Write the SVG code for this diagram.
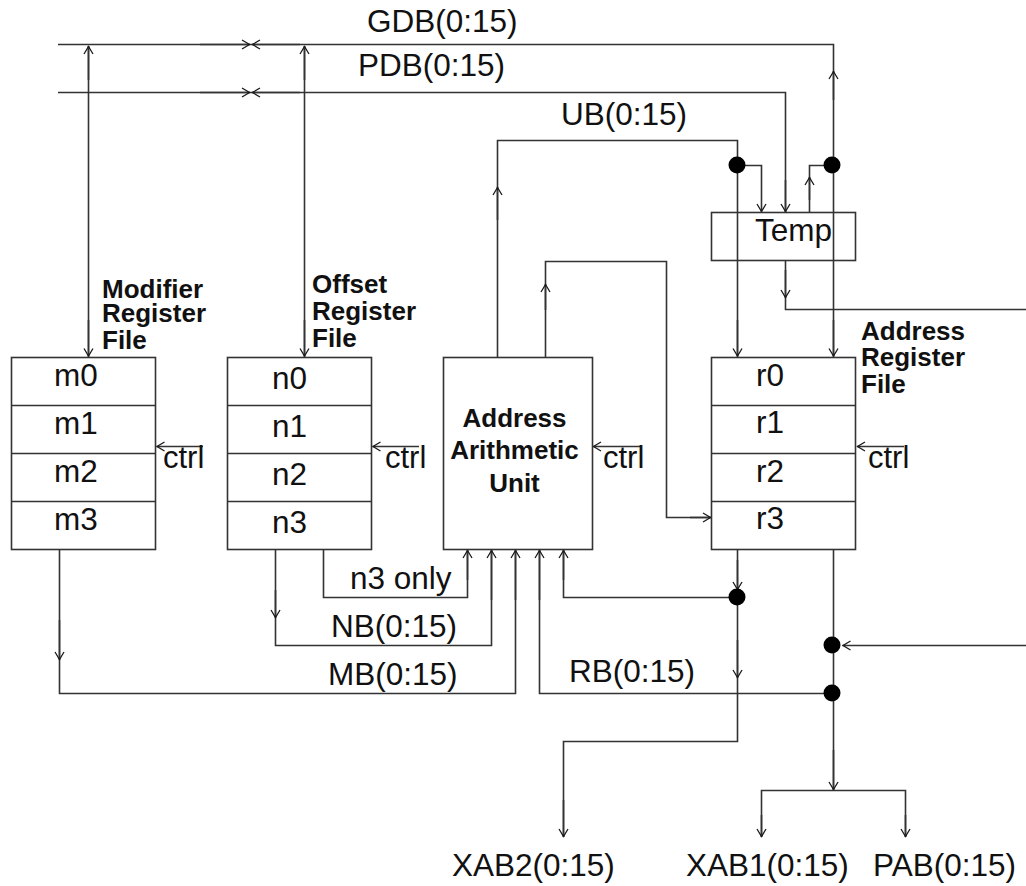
<svg xmlns="http://www.w3.org/2000/svg" width="1026" height="886" viewBox="0 0 1026 886">
<defs>
<marker id="a" markerUnits="userSpaceOnUse" markerWidth="14" markerHeight="14" refX="11" refY="7" orient="auto" overflow="visible"><path d="M3,2.500 L10.500,7 L3,11.500" fill="none" stroke="#1a1a1a" stroke-width="1.3"/></marker>
</defs>
<style>
rect,.l{fill:none;stroke:#333;stroke-width:1.6}
.c path{fill:none;stroke:#333;stroke-width:1.6}
.c path.h{marker-end:url(#a)}
.c circle{fill:#000}
text{font-family:"Liberation Sans",Arial,sans-serif;font-size:31.5px;fill:#111}
text.b{font-weight:bold;font-size:26px}
text.s{font-size:31px}
</style>
<g id="connectors" class="c">
<path d="M58,44.500H833.500V357"/>
<path class="h" d="M200,44.500H250"/><path class="h" d="M300,44.500H252"/>
<path class="h" d="M833.500,100V71"/><path class="h" d="M833.500,320V356.500"/>
<path d="M58,92.500H785.500V212"/>
<path class="h" d="M200,92.500H250"/><path class="h" d="M300,92.500H252"/>
<path class="h" d="M785.500,180V212"/>
<path d="M88.500,357V46"/><path class="h" d="M88.500,80V46"/><path class="h" d="M88.500,320V356.500"/>
<path d="M304.500,357V46"/><path class="h" d="M304.500,80V46"/><path class="h" d="M304.500,320V356.500"/>
<path d="M497.500,357V140.500H737.500V357"/><path class="h" d="M497.500,220V187"/><path class="h" d="M737.500,320V356.500"/>
<path class="h" d="M737.500,165.500H761.500V212"/>
<path d="M833.500,165.500H809.500V212"/><path class="h" d="M809.500,200V177"/>
<circle cx="737" cy="165" r="8.500"/><circle cx="832" cy="165" r="8.500"/>
<path d="M785.500,261V309.500H1026"/><path class="h" d="M785.500,270V298"/>
<path d="M545.500,357V261.500H666.500V517.500H711"/><path class="h" d="M545.500,310V284"/><path class="h" d="M690,517.500H711"/>
<path class="h" d="M203,446.500H156.500"/><path class="h" d="M419,446.500H372.500"/><path class="h" d="M640,446.500H593"/><path class="h" d="M904,446.500H857"/>
<path d="M59.500,549V693.500H515.500V550"/><path class="h" d="M59.500,620V660"/><path class="h" d="M515.500,600V550"/>
<path d="M275.500,549V645.500H491.500V550"/><path class="h" d="M275.500,590V618"/><path class="h" d="M491.500,600V550"/>
<path d="M323.500,549V597.500H467.500V550"/><path class="h" d="M467.500,580V550"/>
<path d="M539.500,550V693.500H833"/><path class="h" d="M539.500,600V550"/>
<path d="M563.500,550V597.500H737"/><path class="h" d="M563.500,580V550"/>
<path d="M737.500,549V741.500H563.500V837"/><path class="h" d="M737.500,560V590"/><path class="h" d="M737.500,640V678"/><path class="h" d="M563.500,800V837"/>
<path d="M833.500,549V790"/><path class="h" d="M833.500,750V790"/>
<path d="M761.500,837V790.500H905.500V837"/><path class="h" d="M761.500,815V837"/><path class="h" d="M905.500,815V837"/>
<path class="h" d="M1026,645.500H842.500"/>
<circle cx="737" cy="597" r="8.500"/><circle cx="832" cy="645" r="8.500"/><circle cx="832" cy="693" r="8.500"/>
</g>
<g id="modifier-file">
<rect x="11.500" y="357.500" width="144" height="192"/>
<path class="l" d="M11.500,405.500H155.500M11.500,453.500H155.500M11.500,501.500H155.500"/>
<text x="54" y="386">m0</text><text x="54" y="434">m1</text><text x="54" y="482">m2</text><text x="54" y="530">m3</text>
<text class="b" x="102" y="298">Modifier</text><text class="b" x="102" y="322">Register</text><text class="b" x="102" y="349">File</text>
<text class="s" x="163" y="468">ctrl</text>
</g>
<g id="offset-file">
<rect x="227.500" y="357.500" width="144" height="192"/>
<path class="l" d="M227.500,405.500H371.500M227.500,453.500H371.500M227.500,501.500H371.500"/>
<text x="272" y="389">n0</text><text x="272" y="437">n1</text><text x="272" y="485">n2</text><text x="272" y="533">n3</text>
<text class="b" x="312" y="293">Offset</text><text class="b" x="312" y="320">Register</text><text class="b" x="312" y="347">File</text>
<text class="s" x="385" y="468">ctrl</text>
</g>
<g id="aau">
<rect x="443.500" y="357.500" width="149" height="192"/>
<text class="b" x="514.500" y="427" text-anchor="middle">Address</text><text class="b" x="514.500" y="459" text-anchor="middle">Arithmetic</text><text class="b" x="514.500" y="492" text-anchor="middle">Unit</text>
<text class="s" x="603" y="468">ctrl</text>
</g>
<g id="address-file">
<rect x="711.500" y="357.500" width="144" height="192"/>
<path class="l" d="M711.500,405.500H855.500M711.500,453.500H855.500M711.500,501.500H855.500"/>
<text x="756" y="386">r0</text><text x="756" y="433">r1</text><text x="756" y="482">r2</text><text x="756" y="529">r3</text>
<text class="b" x="861" y="340">Address</text><text class="b" x="861" y="366">Register</text><text class="b" x="861" y="393">File</text>
<text class="s" x="868" y="468">ctrl</text>
</g>
<g id="temp">
<rect x="711.500" y="212.500" width="144" height="48"/>
<text x="755" y="241">Temp</text>
</g>
<g id="labels">
<text x="367" y="32">GDB(0:15)</text><text x="358" y="76">PDB(0:15)</text><text x="561" y="125">UB(0:15)</text>
<text x="350" y="589">n3 only</text><text x="331" y="637">NB(0:15)</text><text x="328" y="685">MB(0:15)</text><text x="569" y="682">RB(0:15)</text>
<text x="452" y="876">XAB2(0:15)</text><text x="686" y="876">XAB1(0:15)</text><text x="873" y="876">PAB(0:15)</text>
</g>
</svg>
